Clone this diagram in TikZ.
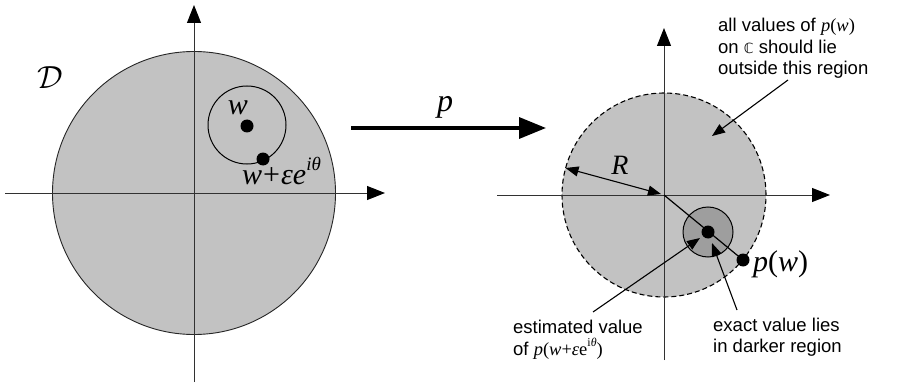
\RequirePackage{fix-cm}
\documentclass[tikz,border=0pt]{standalone}
\usepackage{fontspec}
\setmainfont{Liberation Sans}
\newfontfamily\tms{Liberation Serif}
\newfontfamily\dejavu{DejaVu Sans}
\usetikzlibrary{arrows.meta}
\newcommand\mi[1]{{\tms\itshape #1}}
\newcommand\mr[1]{{\tms #1}}
\definecolor{diskgray}{RGB}{194,194,194}
\definecolor{darkdisk}{RGB}{158,158,158}
\definecolor{axisgray}{RGB}{50,50,50}
\tikzset{
  axisline/.style={draw=axisgray, line width=1pt, -{Triangle[length=18pt,width=14pt,color=black]}},
  disk/.style={circle, draw=black!85, line width=0.9pt, fill=diskgray, inner sep=0pt},
  dot/.style={circle, fill=black, inner sep=0pt, minimum size=13pt},
  annot/.style={font=\fontsize{18.5}{22}\selectfont, inner sep=0pt},
  biglbl/.style={font=\fontsize{30}{36}\selectfont, inner sep=0pt},
  pointer/.style={draw=black, line width=1.1pt, -{Triangle[length=13pt,width=10pt]}},
}
\begin{document}
\begin{tikzpicture}[x=1pt,y=-1pt]
\useasboundingbox (0,0) rectangle (899,385);
\fill[white] (0,0) rectangle (899,385);

% ---------- left plane ----------
\node[disk, minimum size=283pt] (bigL) at (194,193) {};
\coordinate (lvb) at (194,382);
\coordinate (lvt) at (194,5);
\coordinate (lhl) at (5,193);
\coordinate (lhr) at (385,193);
\draw[axisline] (lvb) -- (lvt);
\draw[axisline] (lhl) -- (lhr);
\node[circle, draw=black, line width=1pt, minimum size=78pt, inner sep=0pt] (smallL) at (247,125) {};
\node[dot] (w) at (247,126) {};
\node[dot] (we) at (263,159) {};
\node[biglbl] (wlab) at (238,108) {\mi{w}};
\node[biglbl, anchor=base west] (welab) at (242,184) {\mi{w}\kern1pt\mr{+}\kern1pt\mi{εe}\raisebox{0.45em}{\fontsize{19}{20}\selectfont\mi{iθ}}};
\node[font=\fontsize{32}{36}\selectfont, inner sep=0pt] (Dlab) at (50,78) {$\mathcal{D}$};

% ---------- mapping arrow ----------
\coordinate (ma) at (351,128);
\coordinate (mb) at (546,128);
\draw[line width=3.5pt, -{Triangle[length=27pt,width=21pt]}] (ma) -- (mb);
\node[font=\fontsize{32}{36}\selectfont, inner sep=0pt] (plab) at (445,107) {\mi{p}};

% ---------- right plane ----------
\node[circle, draw=black, dash pattern=on 5pt off 3pt, line width=1.1pt, fill=diskgray, minimum size=204pt, inner sep=0pt] (bigR) at (664,195) {};
\coordinate (rvb) at (664,360);
\coordinate (rvt) at (664,28);
\coordinate (rhl) at (497,195);
\coordinate (rhr) at (830,195);
\draw[axisline] (rvb) -- (rvt);
\draw[axisline] (rhl) -- (rhr);
\coordinate (O2) at (664,195);
\node[circle, draw=black, line width=1pt, fill=darkdisk, minimum size=50pt, inner sep=0pt] (smallR) at (708,232) {};
\node[dot] (pwdot) at (743,260) {};
\node[dot] (est) at (708,232) {};
\draw[black, line width=1.2pt] (O2) -- (pwdot.center);
\node[biglbl, anchor=base west] (pwlab) at (753,271) {\mi{p}\mr{(}\mi{w}\mr{)}};

% radius arrow
\coordinate (Rl) at (565.5,168);
\coordinate (Rr) at (661,194);
\draw[line width=1.1pt, {Triangle[length=13pt,width=10pt]}-{Triangle[length=13pt,width=10pt]}] (Rl) -- (Rr);
\node[font=\fontsize{28}{32}\selectfont, inner sep=0pt] (Rlab) at (620,165) {\mi{R}};

% annotations
\node[annot, anchor=base west] (t1) at (718,32) {all values of \mi{p}\mr{(}\mi{w}\mr{)}};
\node[annot, anchor=base west] (t2) at (718,54) {on {\dejavu\fontsize{14}{16}\selectfont ℂ} should lie};
\node[annot, anchor=base west] (t3) at (718,75) {outside this region};
\coordinate (ta) at (788,80);
\coordinate (tb) at (712,136);
\draw[pointer] (ta) -- (tb);

\node[annot, anchor=base west] (e1) at (513,333) {estimated value};
\node[annot, anchor=base west] (e2) at (513,355) {of \mi{p}\mr{(}\mi{w}\mr{+}\mi{ε}\mr{e}\raisebox{0.45em}{\fontsize{12}{14}\selectfont\mr{i}\mi{θ}}\mr{)}};
\coordinate (ea) at (593,312);
\coordinate (eb) at (700,238);
\draw[pointer] (ea) -- (eb);

\node[annot, anchor=base west] (x1) at (713,331) {exact value lies};
\node[annot, anchor=base west] (x2) at (713,352) {in darker region};
\coordinate (xa) at (737,310);
\coordinate (xb) at (712,243);
\draw[pointer] (xa) -- (xb);
\end{tikzpicture}
\end{document}
